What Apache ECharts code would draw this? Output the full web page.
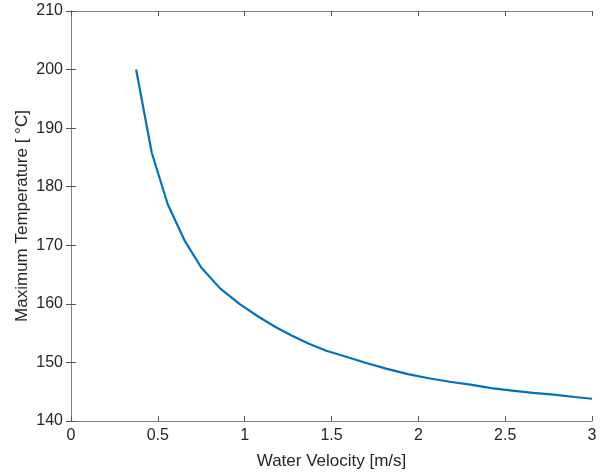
<!DOCTYPE html>
<html>
<head>
<meta charset="utf-8">
<script src="https://cdn.jsdelivr.net/npm/echarts@6/dist/echarts.min.js"></script>
<style>
  html, body { margin: 0; padding: 0; background: #fff; }
  #chart { width: 608px; height: 475px; }
</style>
</head>
<body>
<div id="chart"></div>
<script>
const velocity = [0.375, 0.465, 0.557, 0.656, 0.75, 0.86, 0.97, 1.08, 1.18, 1.27, 1.37, 1.47, 1.58, 1.70, 1.82, 1.94, 2.06, 2.18, 2.30, 2.42, 2.54, 2.66, 2.78, 2.90, 3.00];
const maxTemp = [200.0, 185.8, 177.0, 170.7, 166.2, 162.6, 160.0, 157.8, 156.0, 154.6, 153.2, 152.0, 151.0, 149.9, 148.9, 148.0, 147.3, 146.7, 146.2, 145.6, 145.2, 144.8, 144.5, 144.1, 143.8];

const xTicks = { min: 0, max: 3, interval: 0.5 };
const yTicks = { min: 140, max: 210, interval: 10 };

const chart = echarts.init(document.getElementById("chart"));

const lineColor = "#808080";
const textColor = "#262626";
const font = "'Liberation Sans', Arial, Helvetica, sans-serif";

function boxAxis(extra) {
    return Object.assign({
        type: "value",
        axisLine: { show: true, lineStyle: { color: lineColor, width: 1 } },
        axisTick: { show: true, inside: true, length: 5, lineStyle: { color: "#555" } },
        splitLine: { show: false },
        axisLabel: { color: textColor, fontFamily: font, fontSize: 16 }
    }, extra);
}

const option = {
    animation: false,
    backgroundColor: "#fff",
    grid: { left: 71, right: 16, top: 11, bottom: 53, containLabel: false },
    xAxis: [
        boxAxis({
            position: "bottom",
            min: xTicks.min, max: xTicks.max, interval: xTicks.interval,
            name: "Water Velocity [m/s]",
            nameLocation: "middle",
            nameGap: 32,
            nameMoveOverlap: false,
            nameTextStyle: { color: textColor, fontFamily: font, fontSize: 17 },
            axisLabel: { color: textColor, fontFamily: font, fontSize: 16, margin: 7 }
        }),
        boxAxis({
            position: "top",
            min: xTicks.min, max: xTicks.max, interval: xTicks.interval,
            axisLabel: { show: false }
        })
    ],
    yAxis: [
        boxAxis({
            position: "left",
            min: yTicks.min, max: yTicks.max, interval: yTicks.interval,
            name: "Maximum Temperature [ °C]",
            nameLocation: "middle",
            nameGap: 40,
            nameMoveOverlap: false,
            nameTextStyle: { color: textColor, fontFamily: font, fontSize: 17 },
            axisLabel: { color: textColor, fontFamily: font, fontSize: 16, margin: 8 }
        }),
        boxAxis({
            position: "right",
            min: yTicks.min, max: yTicks.max, interval: yTicks.interval,
            axisLabel: { show: false }
        })
    ],
    series: [
        {
            type: "line",
            data: velocity.map((v, i) => [v, maxTemp[i]]),
            showSymbol: false,
            smooth: false,
            lineStyle: { color: "#0072BD", width: 2.2 },
            itemStyle: { color: "#0072BD" }
        }
    ]
};

chart.setOption(option);
</script>
</body>
</html>
